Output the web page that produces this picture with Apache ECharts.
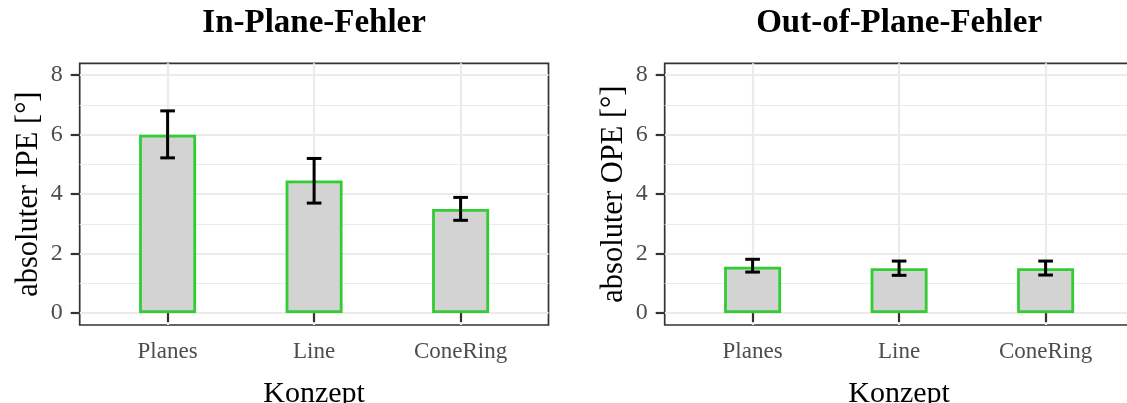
<!DOCTYPE html>
<html>
<head>
<meta charset="utf-8">
<script src="https://cdn.jsdelivr.net/npm/echarts@6/dist/echarts.min.js"></script>
<style>
  html, body { margin: 0; padding: 0; background: #ffffff; }
  #chart { width: 1127px; height: 403px; }
</style>
</head>
<body>
<div id="chart"></div>
<script>
// ---- data ----
const categories = ['Planes', 'Line', 'ConeRing'];
const categoryPositions = [1, 2, 3];
const ipeMean = [6.0, 4.46, 3.5];
const ipeLow  = [5.22, 3.70, 3.12];
const ipeHigh = [6.8, 5.2, 3.89];
const opeMean = [1.56, 1.51, 1.51];
const opeLow  = [1.38, 1.27, 1.28];
const opeHigh = [1.81, 1.75, 1.75];
const yTicks = [0, 2, 4, 6, 8];
const yMinorTicks = [1, 3, 5, 7];
const titles = ['In-Plane-Fehler', 'Out-of-Plane-Fehler'];
const yNames = ['absoluter IPE [°]', 'absoluter OPE [°]'];
const xName = 'Konzept';

// ---- chart ----
const FONT = 'Liberation Serif';
const chart = echarts.init(document.getElementById('chart'), null, { renderer: 'canvas' });

const grids = [
  { left: 79.7, top: 63.3, width: 468.8, height: 261.7 },
  { left: 664.7, top: 63.3, width: 468.8, height: 261.7 }
].map(g => Object.assign(g, {
  show: true, borderColor: '#333333', borderWidth: 1.7, backgroundColor: '#ffffff',
  containLabel: false, outerBoundsMode: 'none'
}));

const xAxes = [], yAxes = [];
[0, 1].forEach(i => {
  xAxes.push({
    type: 'value', gridIndex: i, min: 0.4, max: 3.6,
    name: xName, nameLocation: 'middle', nameGap: 54,
    nameTextStyle: { fontFamily: FONT, fontSize: 30, color: '#000000' },
    axisLine: { show: false },
    axisTick: { show: true, length: 9, customValues: categoryPositions, lineStyle: { color: '#333333', width: 2.2 } },
    axisLabel: { show: true, customValues: categoryPositions, margin: 15,
      fontFamily: FONT, fontSize: 23, color: '#4D4D4D',
      formatter: v => categories[categoryPositions.indexOf(v)] ?? '' },
    splitLine: { show: true, lineStyle: { color: '#EBEBEB', width: 2.2 } }
  });
  yAxes.push({
    type: 'value', gridIndex: i, min: -0.4, max: 8.4, position: 'left',
    name: yNames[i], nameLocation: 'middle', nameGap: 35, nameRotate: 90,
    nameTextStyle: { fontFamily: FONT, fontSize: 30.5, color: '#000000' },
    axisLine: { show: false },
    axisTick: { show: true, length: 9, customValues: yTicks, lineStyle: { color: '#333333', width: 2.2 } },
    axisLabel: { show: true, customValues: yTicks, margin: 17,
      fontFamily: FONT, fontSize: 24, color: '#4D4D4D' },
    splitLine: { show: true, lineStyle: { color: '#EBEBEB', width: 2.2 } }
  });
});
// minor grid lines
[0, 1].forEach(i => {
  yAxes.push({
    type: 'value', gridIndex: i, min: -0.4, max: 8.4, position: 'left',
    axisLine: { show: false },
    axisTick: { show: false, customValues: yMinorTicks },
    axisLabel: { show: false, customValues: yMinorTicks },
    splitLine: { show: true, lineStyle: { color: '#EBEBEB', width: 1.1 } }
  });
});

function barSeries(i, means) {
  return {
    type: 'bar', xAxisIndex: i, yAxisIndex: i, barWidth: 57, z: 3,
    itemStyle: { color: '#D3D3D3', borderColor: '#32CD32', borderWidth: 2.8 },
    data: categoryPositions.map((p, k) => [p, means[k]]),
    silent: true, animation: false
  };
}
function errSeries(i, lows, highs) {
  return {
    type: 'custom', xAxisIndex: i, yAxisIndex: i, z: 5, silent: true, animation: false,
    data: categoryPositions.map((p, k) => [p, lows[k], highs[k]]),
    renderItem: function (params, api) {
      const x = api.value(0), lo = api.value(1), hi = api.value(2);
      const pLo = api.coord([x, lo]);
      const pHi = api.coord([x, hi]);
      const half = (api.coord([x + 0.05, lo])[0] - api.coord([x - 0.05, lo])[0]) / 2;
      const style = { stroke: '#000000', lineWidth: 3, fill: null };
      return {
        type: 'group',
        children: [
          { type: 'line', shape: { x1: pLo[0], y1: pLo[1], x2: pHi[0], y2: pHi[1] }, style },
          { type: 'line', shape: { x1: pHi[0] - half, y1: pHi[1], x2: pHi[0] + half, y2: pHi[1] }, style },
          { type: 'line', shape: { x1: pLo[0] - half, y1: pLo[1], x2: pLo[0] + half, y2: pLo[1] }, style }
        ]
      };
    }
  };
}

chart.setOption({
  animation: false,
  backgroundColor: '#ffffff',
  title: [
    { text: titles[0], left: 314.1, top: 7, textAlign: 'center', padding: 0,
      textStyle: { fontFamily: FONT, fontSize: 33, fontWeight: 'bold', color: '#000000' } },
    { text: titles[1], left: 899.1, top: 7, textAlign: 'center', padding: 0,
      textStyle: { fontFamily: FONT, fontSize: 33, fontWeight: 'bold', color: '#000000' } }
  ],
  grid: grids,
  xAxis: xAxes,
  yAxis: yAxes,
  series: [
    barSeries(0, ipeMean), errSeries(0, ipeLow, ipeHigh),
    barSeries(1, opeMean), errSeries(1, opeLow, opeHigh)
  ]
});
</script>
</body>
</html>
